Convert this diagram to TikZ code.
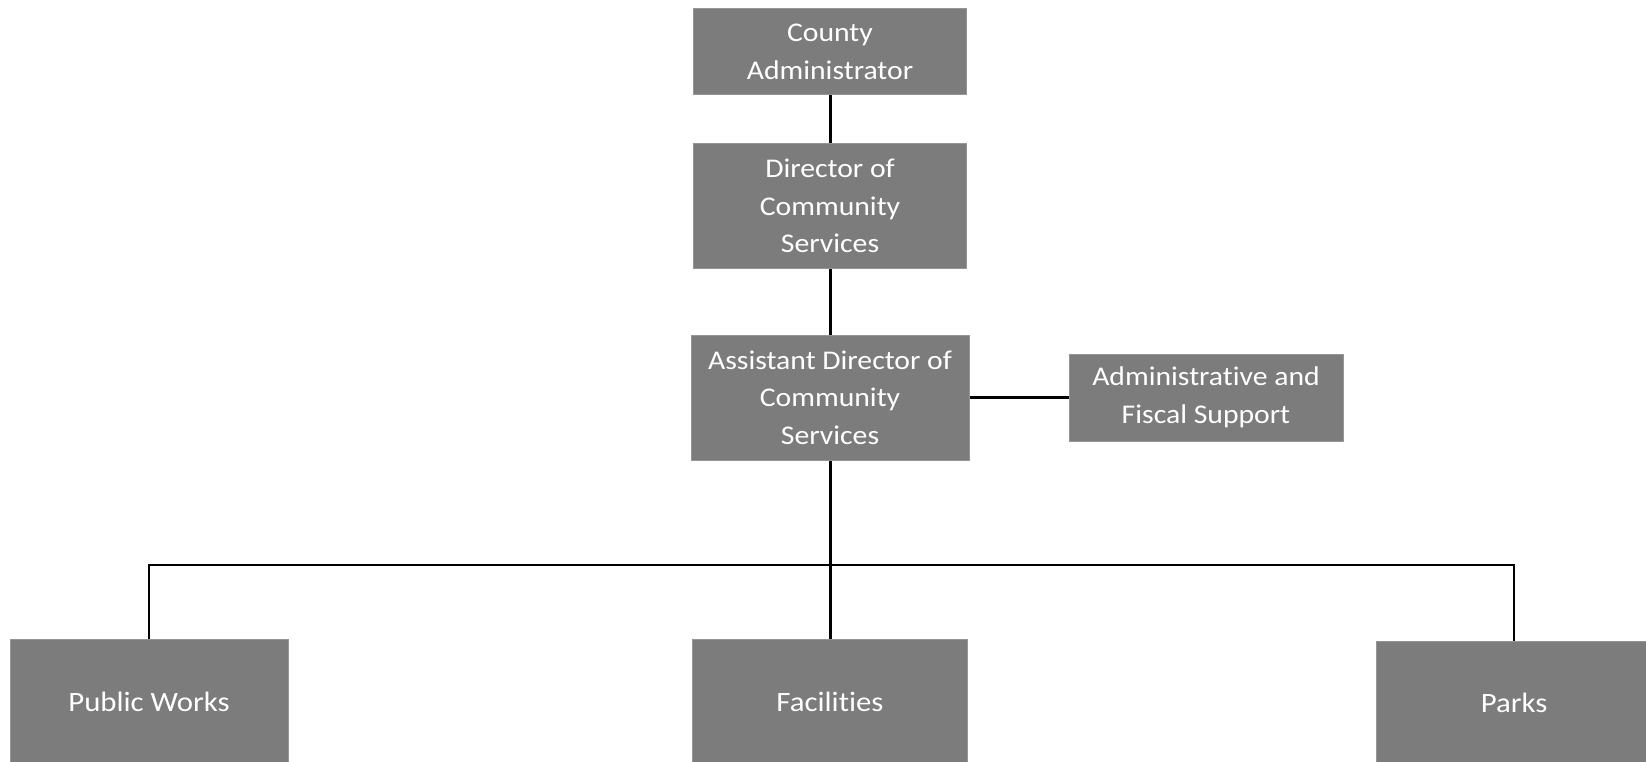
\documentclass[tikz,border=0pt]{standalone}
\usepackage{fontspec}
\setmainfont{Carlito}[FakeStretch=1.1,Ligatures=NoCommon]
\definecolor{boxgray}{RGB}{124,124,124}
\definecolor{boxedge}{RGB}{150,150,150}
\begin{document}
\begin{tikzpicture}[x=1pt,y=-1pt,
  orgbox/.style={rectangle,fill=boxgray,draw=boxedge,line width=1pt,
    text=white,align=center,inner sep=0pt,
    font=\fontsize{27}{37.5}\selectfont},
  lowbox/.style={orgbox,font=\fontsize{28}{34}\selectfont},
  link/.style={draw=black,line width=3pt},
  hlink/.style={draw=black,line width=2.5pt}]
\useasboundingbox (0,0) rectangle (1646,762);
\node[orgbox,minimum width=273pt,minimum height=86pt] (ca) at (830,52) {County\\Administrator};
\node[orgbox,minimum width=273pt,minimum height=124pt] (dir) at (830,206) {Director of\\Community\\Services};
\node[orgbox,minimum width=278pt,minimum height=125pt] (asst) at (830,397.5) {Assistant Director of\\Community\\Services};
\node[orgbox,minimum width=274pt,minimum height=87pt] (adm) at (1206,397.5) {Administrative and\\Fiscal Support};
\node[lowbox,minimum width=278pt,minimum height=126pt] (pw) at (149,702) {Public Works};
\node[lowbox,minimum width=275pt,minimum height=126pt] (fac) at (830,702) {Facilities};
\node[lowbox,minimum width=276pt,minimum height=124pt] (parks) at (1514,703) {Parks};
\coordinate (bus) at (830,565);
\draw[link] (ca.south) -- (dir.north);
\draw[link] (dir.south) -- (asst.north);
\draw[hlink] (asst.east) -- (adm.west);
\draw[link] (asst.south) -- (fac.north);
\draw[hlink] (pw.north) |- (bus) -| (parks.north);
\end{tikzpicture}
\end{document}
